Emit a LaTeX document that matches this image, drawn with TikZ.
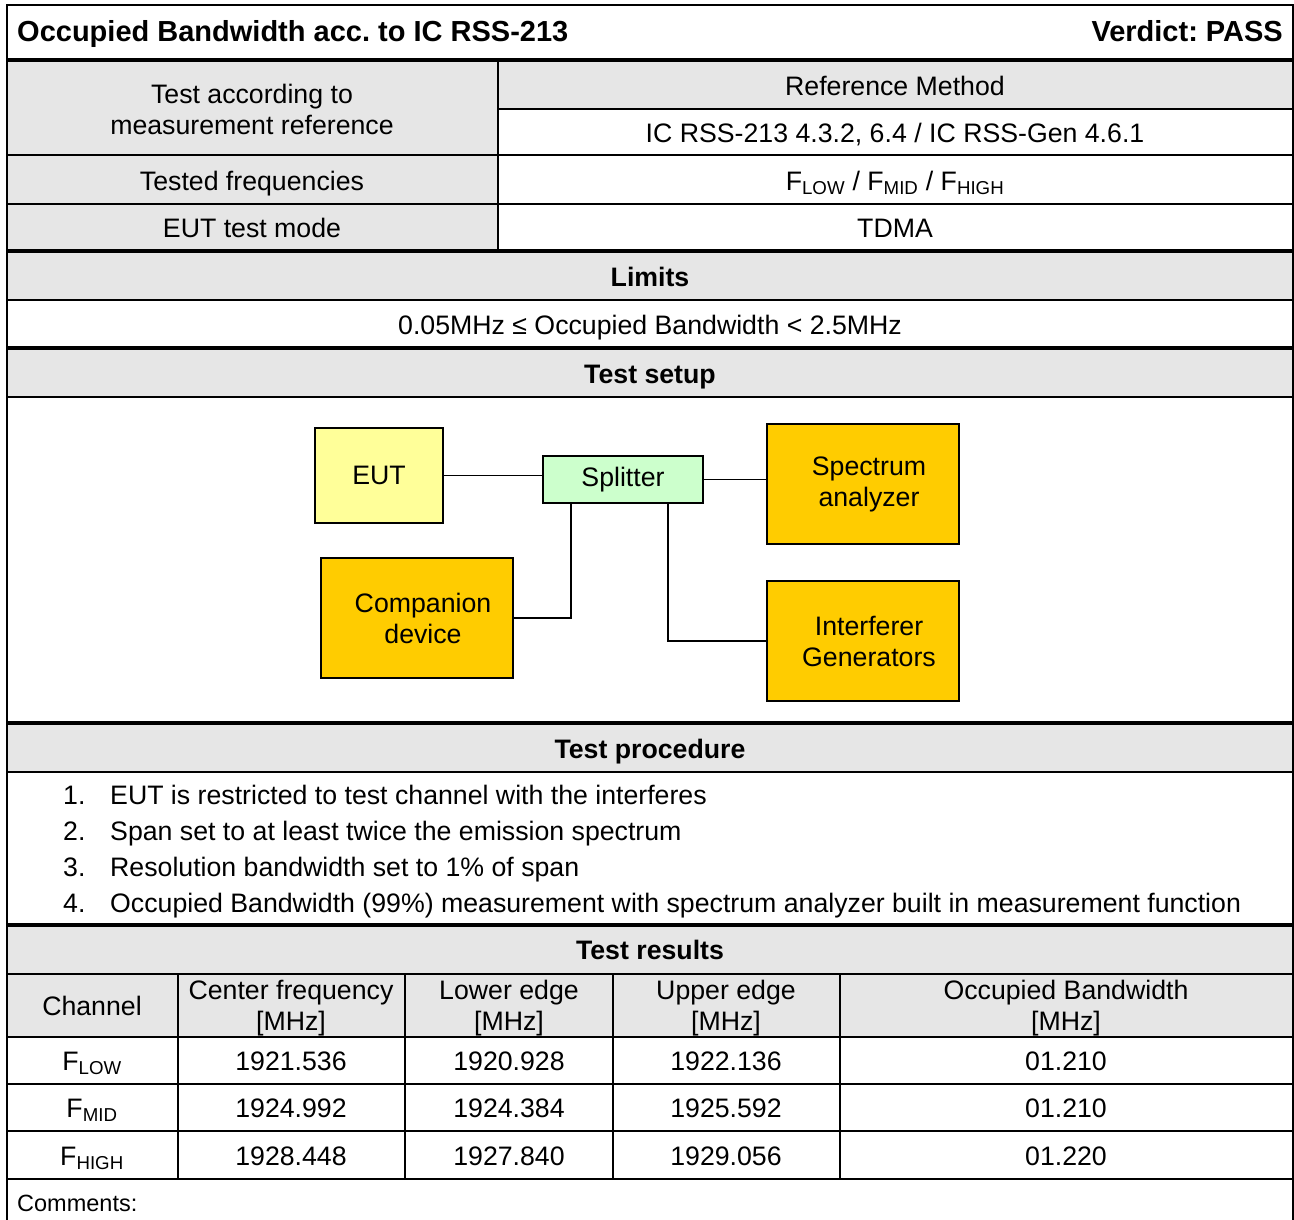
\documentclass[tikz,border=0pt]{standalone}
\usepackage{fontspec}
\setmainfont{Liberation Sans}
\usetikzlibrary{calc}
\definecolor{hdr}{RGB}{230,230,230}
\definecolor{eutc}{RGB}{255,255,153}
\definecolor{splc}{RGB}{204,255,204}
\definecolor{orc}{RGB}{255,204,0}
\frenchspacing
\begin{document}
\begin{tikzpicture}[x=1pt,y=-1pt,
  txt/.style={anchor=base,inner sep=0pt,font=\fontsize{26.7}{31}\selectfont},
  btxt/.style={anchor=base,inner sep=0pt,font=\fontsize{26.7}{31}\selectfont\bfseries},
  gridline/.style={line width=1.6pt},
  heavyline/.style={line width=3.2pt},
  box/.style={draw,line width=1.8pt,inner sep=0pt,align=center,font=\fontsize{26.7}{31}\selectfont},
  wire/.style={line width=1.6pt}]
\useasboundingbox (0,0) rectangle (1294,1220);
% fills
\fill[hdr] (7,60) rectangle (498,251);
\fill[hdr] (498,60) rectangle (1293,109);
\fill[hdr] (7,251) rectangle (1293,300);
\fill[hdr] (7,348) rectangle (1293,397);
\fill[hdr] (7,723) rectangle (1293,772);
\fill[hdr] (7,925) rectangle (1293,1037);
% outer border
\draw[gridline] (7,1220) -- (7,5) -- (1293,5) -- (1293,1220);
% heavy rules
\foreach \yy in {60,251,348,723,925} \draw[heavyline] (7,\yy) -- (1293,\yy);
% normal rules
\draw[gridline] (498,109) -- (1293,109);
\foreach \yy in {155,204,300,397,772,974,1037,1084,1131,1179} \draw[gridline] (7,\yy) -- (1293,\yy);
\draw[gridline] (498,60) -- (498,251);
\foreach \xx in {178,405,613,840} \draw[gridline] (\xx,974) -- (\xx,1179);
% title
\node[btxt,anchor=base west,font=\fontsize{29}{33}\selectfont\bfseries] (title) at (17,42) {Occupied Bandwidth acc. to IC RSS-213};
\node[btxt,anchor=base east,font=\fontsize{29}{33}\selectfont\bfseries] (verdict) at (1283,42) {Verdict: PASS};
% info rows
\node[txt] (ta1) at (252,103.5) {Test according to};
\node[txt] (ta2) at (252,134.5) {measurement reference};
\node[txt] (rm) at (895,95.5) {Reference Method};
\node[txt] (rss) at (895,142.5) {IC RSS-213 4.3.2, 6.4 / IC RSS-Gen 4.6.1};
\node[txt] (tf) at (252,190.5) {Tested frequencies};
\node[txt] (tfv) at (895,190.5) {F\textsubscript{LOW} / F\textsubscript{MID} / F\textsubscript{HIGH}};
\node[txt] (em) at (252,237.5) {EUT test mode};
\node[txt] (emv) at (895,237.5) {TDMA};
% limits
\node[btxt] (lim) at (650,286.5) {Limits};
\node[txt] (limv) at (650,334.5) {0.05MHz ≤ Occupied Bandwidth < 2.5MHz};
\node[btxt] (ts) at (650,383.5) {Test setup};
% setup diagram
\node[box,fill=eutc,minimum width=128,minimum height=95] (eut) at (379,475.5) {EUT};
\node[box,fill=splc,minimum width=160,minimum height=47] (spl) at (623,479.5) {Splitter};
\node[box,fill=orc,minimum width=192,minimum height=120] (sa) at (863,484) {\hspace*{12pt}Spectrum\\\hspace*{12pt}analyzer};
\node[box,fill=orc,minimum width=192,minimum height=120] (comp) at (417,618) {\hspace*{12pt}Companion\\\hspace*{12pt}device};
\node[box,fill=orc,minimum width=192,minimum height=120] (intf) at (863,641) {\hspace*{12pt}Interferer\\\hspace*{12pt}Generators};
\draw[wire] (eut.east) -- (eut.east -| spl.west);
\draw[wire] (spl.east) -- (spl.east -| sa.west);
\draw[wire] ($(spl.south west)+(29,0)$) |- (comp.east);
\draw[wire] ($(spl.south west)+(126,0)$) |- (intf.west);
% procedure
\node[btxt] (tp) at (650,758.5) {Test procedure};
\node[txt,anchor=base west] (n1) at (63,804.5) {1.};
\node[txt,anchor=base west] (p1) at (110,804.5) {EUT is restricted to test channel with the interferes};
\node[txt,anchor=base west] (n2) at (63,840.5) {2.};
\node[txt,anchor=base west] (p2) at (110,840.5) {Span set to at least twice the emission spectrum};
\node[txt,anchor=base west] (n3) at (63,876.5) {3.};
\node[txt,anchor=base west] (p3) at (110,876.5) {Resolution bandwidth set to 1\% of span};
\node[txt,anchor=base west] (n4) at (63,912.5) {4.};
\node[txt,anchor=base west] (p4) at (110,912.5) {Occupied Bandwidth (99\%) measurement with spectrum analyzer built in measurement function};
% results
\node[btxt] (tr) at (650,959.5) {Test results};
\node[txt] (h1) at (92,1015.5) {Channel};
\node[txt] (h2a) at (291,999.5) {Center frequency};
\node[txt] (h2b) at (291,1030.5) {[MHz]};
\node[txt] (h3a) at (509,999.5) {Lower edge};
\node[txt] (h3b) at (509,1030.5) {[MHz]};
\node[txt] (h4a) at (726,999.5) {Upper edge};
\node[txt] (h4b) at (726,1030.5) {[MHz]};
\node[txt] (h5a) at (1066,999.5) {Occupied Bandwidth};
\node[txt] (h5b) at (1066,1030.5) {[MHz]};
\node[txt] (r1a) at (92,1070.5) {F\textsubscript{LOW}};
\node[txt] (r1b) at (291,1070.5) {1921.536};
\node[txt] (r1c) at (509,1070.5) {1920.928};
\node[txt] (r1d) at (726,1070.5) {1922.136};
\node[txt] (r1e) at (1066,1070.5) {01.210};
\node[txt] (r2a) at (92,1117.5) {F\textsubscript{MID}};
\node[txt] (r2b) at (291,1117.5) {1924.992};
\node[txt] (r2c) at (509,1117.5) {1924.384};
\node[txt] (r2d) at (726,1117.5) {1925.592};
\node[txt] (r2e) at (1066,1117.5) {01.210};
\node[txt] (r3a) at (92,1165.5) {F\textsubscript{HIGH}};
\node[txt] (r3b) at (291,1165.5) {1928.448};
\node[txt] (r3c) at (509,1165.5) {1927.840};
\node[txt] (r3d) at (726,1165.5) {1929.056};
\node[txt] (r3e) at (1066,1165.5) {01.220};
\node[txt,anchor=base west,font=\fontsize{23.5}{27}\selectfont] (cm) at (17,1211) {Comments:};
\end{tikzpicture}
\end{document}
